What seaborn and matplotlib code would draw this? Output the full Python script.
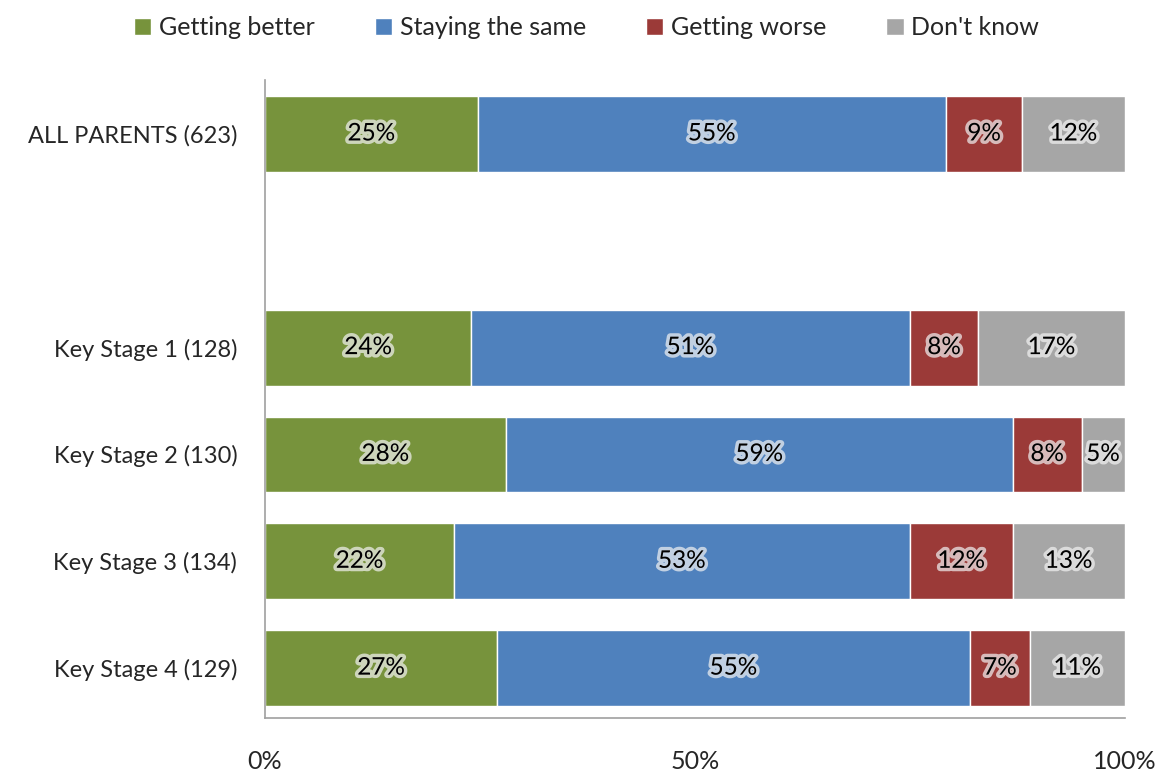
import matplotlib
matplotlib.use("Agg")
import matplotlib.pyplot as plt
import matplotlib.patheffects as pe
import numpy as np
import seaborn as sns

groups = ["ALL PARENTS (623)", "Key Stage 1 (128)", "Key Stage 2 (130)",
          "Key Stage 3 (134)", "Key Stage 4 (129)"]
answers = ["Getting better", "Staying the same", "Getting worse", "Don't know"]
better = [25, 24, 28, 22, 27]
same = [55, 51, 59, 53, 55]
worse = [9, 8, 8, 12, 7]
dont_know = [12, 17, 5, 13, 11]
colors = ["#77933C", "#4F81BD", "#9B3A38", "#A6A6A6"]

sns.set_style("white")
plt.rcParams["font.family"] = ["Lato", "DejaVu Sans"]

fig = plt.figure(figsize=(11.66, 7.78), dpi=100)
ax = fig.add_axes([0.2273, 0.0771, 0.7375, 0.8201])

series = np.array([better, same, worse, dont_know], dtype=float)
# rounded labels do not always sum to 100, bars are drawn as shares of the row
shares = series / series.sum(axis=0) * 100

# leave an empty slot between the overall row and the key stages
ypos = np.array([0, 2, 3, 4, 5])
left = np.zeros(len(groups))
for name, vals, labs, col in zip(answers, shares, series, colors):
    bars = ax.barh(ypos, vals, left=left, height=0.71, color=col, label=name)
    for b, v in zip(bars, labs):
        ax.text(b.get_x() + b.get_width() / 2, b.get_y() + b.get_height() / 2,
                f"{v:.0f}%", ha="center", va="center", fontsize=17.5, color="black",
                path_effects=[pe.withStroke(linewidth=5, foreground="#F2F2F2", alpha=0.7)])
    left += vals

ax.set_xlim(0, 100.05)
ax.set_ylim(5.467, -0.505)
ax.set_yticks(ypos)
ax.set_yticklabels(groups, fontsize=17)
ax.set_xticks([0, 50, 100])
ax.set_xticklabels(["0%", "50%", "100%"], fontsize=18)
ax.tick_params(axis="y", length=0, pad=20)
ax.tick_params(axis="x", length=0, pad=23)
for s in ["top", "right"]:
    ax.spines[s].set_visible(False)
for s in ["left", "bottom"]:
    ax.spines[s].set_color("#A0A0A0")
    ax.spines[s].set_linewidth(1.2)

fig.legend(loc="upper center", bbox_to_anchor=(0.503, 1.008), ncol=4,
           frameon=False, fontsize=18, handlelength=0.7, handleheight=0.7,
           handletextpad=0.3, columnspacing=2.4)

fig.savefig("out.png", dpi=100)
